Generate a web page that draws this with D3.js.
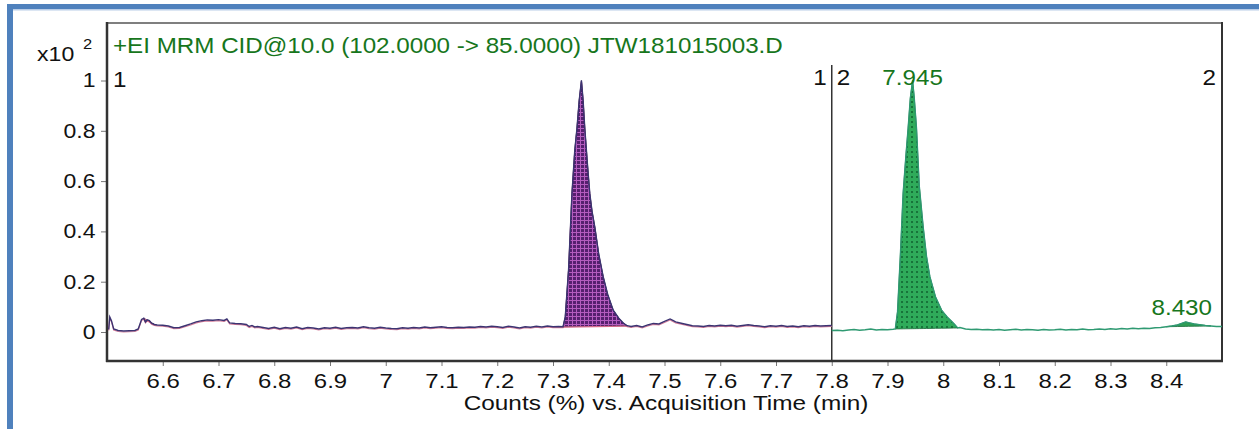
<!DOCTYPE html>
<html>
<head>
<meta charset="utf-8">
<script src="https://cdn.jsdelivr.net/npm/d3@7"></script>
<style>
html, body { margin: 0; padding: 0; background: #fff; }
svg { display: block; }
</style>
</head>
<body>
<script>
// segment 1 (102 -> 85 transition, purple), counts in x10^2
const leftTime = [6.503, 6.505, 6.508, 6.512, 6.52, 6.53, 6.54, 6.55, 6.556, 6.562, 6.566, 6.569, 6.572, 6.576, 6.58, 6.585, 6.59, 6.6, 6.61, 6.62, 6.63, 6.64, 6.65, 6.66, 6.67, 6.68, 6.69, 6.70, 6.71, 6.715, 6.72, 6.73, 6.74, 6.75, 6.755, 6.76, 6.765, 6.77, 6.78,
  6.79, 6.80, 6.81, 6.82, 6.83, 6.84, 6.85, 6.86, 6.87, 6.88, 6.89, 6.90, 6.91, 6.92, 6.93, 6.94, 6.95, 6.96, 6.97, 6.98, 6.99, 7.00, 7.01, 7.02, 7.03, 7.04, 7.05, 7.06, 7.07, 7.08, 7.09, 7.10, 7.11, 7.12, 7.13, 7.14, 7.15, 7.16, 7.17, 7.18, 7.19, 7.20, 7.21, 7.22, 7.23, 7.24, 7.25, 7.26, 7.27, 7.28, 7.29, 7.30, 7.31, 7.318,
  7.322, 7.328, 7.334, 7.339, 7.343, 7.347, 7.351, 7.354, 7.357, 7.362, 7.366, 7.370, 7.375, 7.382, 7.39, 7.398, 7.408, 7.418, 7.426, 7.433,
  7.44, 7.45, 7.46, 7.47, 7.48, 7.49, 7.50, 7.51, 7.515, 7.52, 7.53, 7.54, 7.55, 7.56, 7.57, 7.58, 7.59, 7.60, 7.61, 7.62, 7.63, 7.64, 7.65, 7.66, 7.67, 7.68, 7.69, 7.70, 7.71, 7.72, 7.73, 7.74, 7.75, 7.76, 7.77, 7.78, 7.79, 7.80]
const leftCounts = [0.01, 0.06, 0.045, 0.012, 0.006, 0.004, 0.005, 0.006, 0.012, 0.05, 0.055, 0.04, 0.048, 0.045, 0.035, 0.03, 0.028, 0.027, 0.024, 0.017, 0.018, 0.025, 0.032, 0.04, 0.045, 0.048, 0.047, 0.049, 0.046, 0.052, 0.036, 0.034, 0.033, 0.03, 0.022, 0.026, 0.02, 0.022, 0.018,
  0.014, 0.019, 0.013, 0.018, 0.015, 0.02, 0.013, 0.018, 0.016, 0.012, 0.017, 0.015, 0.019, 0.014, 0.017, 0.018, 0.016, 0.021, 0.017, 0.015, 0.019, 0.016, 0.014, 0.013, 0.017, 0.015, 0.018, 0.016, 0.02, 0.017, 0.019, 0.021, 0.018, 0.017, 0.019, 0.018, 0.02, 0.019, 0.022, 0.02, 0.023, 0.021, 0.018, 0.023, 0.02, 0.016, 0.021, 0.019, 0.023, 0.02, 0.024, 0.021, 0.022, 0.021,
  0.06, 0.25, 0.55, 0.72, 0.81, 0.92, 1.0, 0.92, 0.81, 0.66, 0.55, 0.48, 0.417, 0.31, 0.22, 0.15, 0.087, 0.055, 0.036, 0.025,
  0.022, 0.026, 0.02, 0.028, 0.034, 0.032, 0.042, 0.052, 0.046, 0.04, 0.035, 0.03, 0.025, 0.024, 0.022, 0.026, 0.024, 0.027, 0.025, 0.027, 0.023, 0.026, 0.029, 0.026, 0.024, 0.021, 0.025, 0.023, 0.026, 0.022, 0.024, 0.021, 0.025, 0.023, 0.026, 0.024, 0.025, 0.026]

// segment 2 (green)
const rightTime = [7.80, 7.81, 7.82, 7.83, 7.84, 7.85, 7.86, 7.87, 7.88, 7.89, 7.90, 7.91, 7.914,
  7.918, 7.923, 7.928, 7.933, 7.937, 7.941, 7.945, 7.948, 7.952, 7.957, 7.964, 7.970, 7.976, 7.986, 7.997, 8.007, 8.018, 8.026,
  8.03, 8.04, 8.05, 8.06, 8.07, 8.08, 8.09, 8.10, 8.11, 8.12, 8.13, 8.14, 8.15, 8.16, 8.17, 8.18, 8.19, 8.20, 8.21, 8.22, 8.23, 8.24, 8.25, 8.26, 8.27, 8.28, 8.29, 8.30, 8.31, 8.32, 8.33, 8.34, 8.35, 8.36, 8.37, 8.38, 8.39, 8.40, 8.41, 8.42, 8.43, 8.435, 8.44, 8.45, 8.46, 8.47, 8.48, 8.49, 8.50]
const rightCounts = [0.006, 0.007, 0.005, 0.008, 0.01, 0.007, 0.009, 0.012, 0.008, 0.01, 0.009, 0.011, 0.012,
  0.08, 0.3, 0.55, 0.7, 0.81, 0.93, 1.0, 0.93, 0.81, 0.58, 0.417, 0.3, 0.22, 0.14, 0.087, 0.06, 0.036, 0.016,
  0.018, 0.012, 0.01, 0.011, 0.009, 0.01, 0.008, 0.01, 0.007, 0.009, 0.011, 0.008, 0.01, 0.009, 0.007, 0.01, 0.008, 0.009, 0.011, 0.008, 0.01, 0.009, 0.012, 0.009, 0.01, 0.012, 0.01, 0.013, 0.011, 0.014, 0.012, 0.015, 0.013, 0.015, 0.014, 0.017, 0.018, 0.021, 0.024, 0.028, 0.036, 0.04, 0.037, 0.032, 0.029, 0.026, 0.024, 0.022, 0.022]

// integrated windows [start, end]
const leftPeaks = [[6.566, 6.585], [7.318, 7.433]]
const rightPeaks = [[7.914, 8.026], [8.40, 8.48]]

const xTicks = [6.6, 6.7, 6.8, 6.9, 7, 7.1, 7.2, 7.3, 7.4, 7.5, 7.6, 7.7, 7.8, 7.9, 8, 8.1, 8.2, 8.3, 8.4]
const yTicks = [0, 0.2, 0.4, 0.6, 0.8, 1]
const yTickLabels = ['0', '0.2', '0.4', '0.6', '0.8', '1']

const peakLabels = [[7.945, 1.0, '7.945'], [8.435, 0.04, '8.430']]
const titleText = '+EI MRM CID@10.0 (102.0000 -> 85.0000) JTW181015003.D'
const xTitle = 'Counts (%) vs. Acquisition Time (min)'

const W = 1259, H = 429
const font = "Arial, 'Liberation Sans', Helvetica, sans-serif"
const sx = 1.1

const svg = d3.select('body').append('svg').attr('width', W).attr('height', H)

const x = d3.scaleLinear().domain([6.5, 8.5]).range([107, 1222])
const y = d3.scaleLinear().domain([0, 1]).range([332, 80.5])

const defs = svg.append('defs')
const pp = defs.append('pattern').attr('id', 'purpleGrid')
  .attr('width', 4).attr('height', 4).attr('patternUnits', 'userSpaceOnUse')
pp.append('rect').attr('width', 4).attr('height', 4).attr('fill', '#56206f')
pp.append('rect').attr('width', 4).attr('height', 1).attr('fill', '#b45cbf')
pp.append('rect').attr('width', 1).attr('height', 4).attr('fill', '#b45cbf')

const gp = defs.append('pattern').attr('id', 'greenGrid')
  .attr('width', 5).attr('height', 5).attr('patternUnits', 'userSpaceOnUse')
gp.append('rect').attr('width', 5).attr('height', 5).attr('fill', '#2fab5a')
gp.append('rect').attr('x', 1).attr('y', 1).attr('width', 2).attr('height', 2).attr('fill', '#17743a')

// page frame (blue box of the document)
svg.append('rect').attr('x', 7).attr('y', 4).attr('width', W - 7).attr('height', 5).attr('fill', '#4f81bd')
svg.append('rect').attr('x', 13).attr('y', 9).attr('width', W - 13).attr('height', 1.5).attr('fill', '#b9cde8')
svg.append('rect').attr('x', 7).attr('y', 4).attr('width', 6).attr('height', H - 4).attr('fill', '#4f81bd')

function txt(s, px, py, size, color, anchor) {
  return svg.append('text')
    .attr('transform', `translate(${px},${py}) scale(${sx},1)`)
    .attr('font-family', font).attr('font-size', size)
    .attr('fill', color).attr('text-anchor', anchor || 'start')
    .text(s)
}

// axes
const xAxis = d3.axisBottom(x).tickValues(xTicks).tickSize(5).tickPadding(7)
  .tickFormat(d3.format('~g'))
svg.append('g').attr('transform', 'translate(0,361)').call(xAxis)
  .call(g => g.select('.domain').remove())
  .call(g => g.selectAll('line').attr('stroke', '#777'))
  .call(g => g.selectAll('text').attr('font-family', font).attr('font-size', 21)
    .attr('fill', '#111').attr('transform', 'scale(1.14,1)'))

const yAxis = d3.axisLeft(y).tickValues(yTicks).tickSize(6).tickPadding(4)
  .tickFormat((d, i) => yTickLabels[i])
svg.append('g').attr('transform', 'translate(107,0)').call(yAxis)
  .call(g => g.select('.domain').remove())
  .call(g => g.selectAll('line').attr('stroke', '#777'))
  .call(g => g.selectAll('text').attr('font-family', font).attr('font-size', 20)
    .attr('fill', '#111').attr('transform', 'scale(1.15,1)'))

// plot frame
const frame = svg.append('g').attr('stroke', '#333').attr('fill', 'none')
frame.append('line').attr('x1', 106).attr('x2', 1223).attr('y1', 23).attr('y2', 23).attr('stroke-width', 1.5).attr('stroke', '#555')
frame.append('line').attr('x1', 107).attr('x2', 107).attr('y1', 22).attr('y2', 362).attr('stroke-width', 2.5)
frame.append('line').attr('x1', 106).attr('x2', 1223).attr('y1', 361).attr('y2', 361).attr('stroke-width', 2.5)
frame.append('line').attr('x1', 1222).attr('x2', 1222).attr('y1', 22).attr('y2', 362).attr('stroke-width', 2)
frame.append('line').attr('x1', x(7.8)).attr('x2', x(7.8)).attr('y1', 65).attr('y2', 361).attr('stroke-width', 1.5)

const line = d3.line().x(d => x(d[0])).y(d => y(d[1]))
const leftPts = leftTime.map((t, i) => [t, leftCounts[i]])
const rightPts = rightTime.map((t, i) => [t, rightCounts[i]])

function peakPts(pts, win) {
  const sel = pts.filter(p => p[0] >= win[0] - 1e-9 && p[0] <= win[1] + 1e-9)
  const a = sel[0], b = sel[sel.length - 1]
  return sel.map(p => ({ t: p[0], v: p[1], b: a[1] + (b[1] - a[1]) * (p[0] - a[0]) / (b[0] - a[0]) }))
}
const area = d3.area().x(d => x(d.t)).y0(d => y(d.b)).y1(d => y(d.v))

// segment 1
svg.append('path').datum(leftPts).attr('d', line).attr('transform', 'translate(0,1)')
  .attr('fill', 'none').attr('stroke', '#d57c98').attr('stroke-width', 1.2)
leftPeaks.forEach((w, i) => {
  const pk = peakPts(leftPts, w)
  svg.append('path').datum(pk).attr('d', area)
    .attr('fill', i === 1 ? 'url(#purpleGrid)' : '#2c2266')
    .attr('stroke', '#2a1845').attr('stroke-width', 0.8)
  svg.append('line').attr('x1', x(pk[0].t)).attr('x2', x(pk[pk.length - 1].t))
    .attr('y1', y(pk[0].b) + 0.5).attr('y2', y(pk[pk.length - 1].b) + 0.5)
    .attr('stroke', '#d86a8c').attr('stroke-width', 1.3)
})
svg.append('path').datum(leftPts).attr('d', line)
  .attr('fill', 'none').attr('stroke', '#3c3472').attr('stroke-width', 1.4)

// segment 2
rightPeaks.forEach((w, i) => {
  const pk = peakPts(rightPts, w)
  svg.append('path').datum(pk).attr('d', area)
    .attr('fill', i === 0 ? 'url(#greenGrid)' : '#2f9e55')
    .attr('stroke', '#1c6a3a').attr('stroke-width', 0.8)
})
svg.append('path').datum(rightPts).attr('d', line)
  .attr('fill', 'none').attr('stroke', '#2f9a72').attr('stroke-width', 1.4)

// texts
txt(titleText, 113, 53, 22, '#17761c')
txt('x10', 37, 61, 21, '#111')
txt('2', 83, 49, 15, '#111')
txt('1', 113, 87, 22, '#111')
txt('1', x(7.8) - 5, 85, 22, '#111', 'end')
txt('2', x(7.8) + 5, 85, 22, '#111')
txt('2', 1216, 85, 22, '#111', 'end')
peakLabels.forEach(d => {
  const ly = d[1] > 0.5 ? 85 : y(d[1]) - 7
  txt(d[2], x(d[0]) - (d[1] > 0.5 ? 0 : 4), ly, 22, '#17761c', 'middle')
})
txt(xTitle, 666, 410, 21, '#111', 'middle').attr('transform', 'translate(666,410) scale(1.16,1)')
</script>
</body>
</html>
